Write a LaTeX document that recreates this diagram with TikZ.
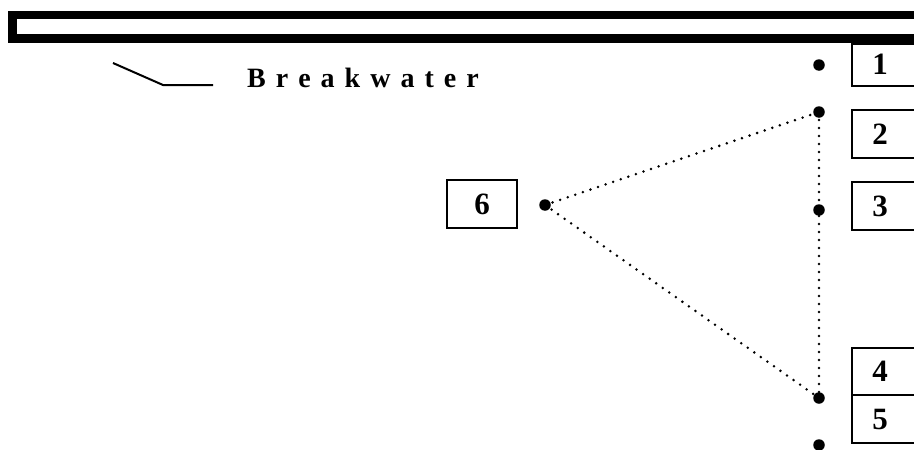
\documentclass[tikz,border=0pt]{standalone}
\usepackage{fontspec}
\setmainfont{Liberation Serif}
\begin{document}
\begin{tikzpicture}[x=1pt,y=-1pt,
  numbox/.style={draw,line width=2pt,inner sep=0pt,font=\fontsize{31}{31}\selectfont\bfseries},
  pdot/.style={circle,fill,inner sep=0pt,minimum size=11.5pt},
  dline/.style={line width=2.8pt,line cap=round,dash pattern=on 0pt off 8pt},
  lead/.style={line width=2pt}]
\useasboundingbox (0,0) rectangle (914,450);
\clip (0,0) rectangle (914,450);
% breakwater bar
\fill[black] (8,11) rectangle (930,43);
\fill[white] (17,19) rectangle (930,34);
% label
\coordinate (l1) at (113,63);
\coordinate (l2) at (163,85);
\coordinate (l3) at (213,85);
\draw[lead] (l1) -- (l2) -- (l3);
\node[anchor=base west,inner sep=0pt,font=\fontsize{28}{28}\selectfont\bfseries] (bw) at (247,87)
  {B\hspace{10pt}r\hspace{10pt}e\hspace{10pt}a\hspace{10pt}k\hspace{10pt}w\hspace{10pt}a\hspace{10pt}t\hspace{10pt}e\hspace{10pt}r};
% boxes (right edges run off the picture)
\node[numbox,minimum width=76pt,minimum height=42pt] (b1) at (890,64.5) {1\hbox to 20pt{}};
\node[numbox,minimum width=76pt,minimum height=48pt] (b2) at (890,134) {2\hbox to 20pt{}};
\node[numbox,minimum width=76pt,minimum height=48pt] (b3) at (890,206) {3\hbox to 20pt{}};
\node[numbox,minimum width=76pt,minimum height=47pt] (b4) at (890,371.5) {4\hbox to 20pt{}};
\node[numbox,minimum width=76pt,minimum height=48pt] (b5) at (890,419) {5\hbox to 20pt{}};
\node[numbox,minimum width=70pt,minimum height=48pt] (b6) at (482,204) {6};
% dots
\node[pdot] (d1) at (819,65) {};
\node[pdot] (d2) at (819,112) {};
\node[pdot] (d3) at (819,210) {};
\node[pdot] (d4) at (819,398) {};
\node[pdot] (d5) at (819,445) {};
\node[pdot] (d6) at (545,205) {};
% dotted connectors
\draw[dline] (d6.center) -- (d2.center);
\draw[dline] (d6.center) -- (d4.center);
\draw[dline] (d2.center) -- (d4.center);
\end{tikzpicture}
\end{document}
